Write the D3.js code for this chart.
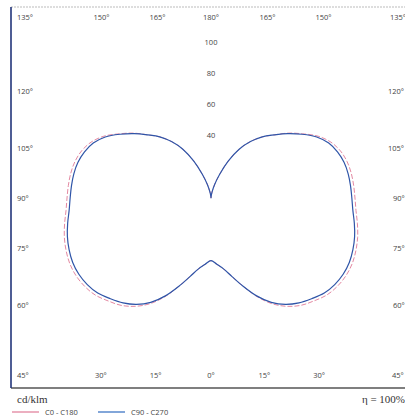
<!DOCTYPE html>
<html>
<head>
<meta charset="utf-8">
<script src="https://cdn.jsdelivr.net/npm/d3@7"></script>
<style>
  body { margin: 0; background: #fff; }
  svg { display: block; }
</style>
</head>
<body>
<div id="chart"></div>
<script>
// gamma angles (0 = straight down, 180 = straight up)
var gammas = [0, 5, 10, 15, 20, 25, 30, 35, 40, 45, 50, 55, 60, 65, 70, 75, 80, 85, 90,
              95, 100, 105, 110, 115, 120, 125, 130, 135, 140, 145, 150, 155, 160, 165, 170, 175, 180];
// cd/klm
var c0c180 = [40, 42.5, 46, 52, 60, 69.5, 78, 84.5, 89.5, 93, 96.5, 98.5, 99.5, 99.5, 98.5, 97, 95, 93, 92,
              91.5, 91, 90, 88, 84.5, 79, 71.5, 64.5, 57, 51, 44, 36, 26, 16, 9, 4, 1, 0];
var c90c270 = [40, 42.5, 46, 52, 60, 69, 77, 83, 87.5, 91, 94.5, 96.5, 97.5, 97.5, 96.5, 95, 93, 91, 90,
               89.5, 89, 88, 86, 83, 78, 71, 64, 57, 51, 44, 36, 26, 16, 9, 4, 1, 0];
var radialTicks = [40, 60, 80, 100];
var topAngles = [135, 150, 165, 180, 165, 150, 135];
var sideAngles = [120, 105, 90, 75, 60];
var bottomAngles = [45, 30, 15, 0, 15, 30, 45];

var width = 405, height = 418;
var cx = 211, cy = 198;
var frame = {left: 11, top: 7, right: 411, bottom: 388};

var svg = d3.select("#chart").append("svg")
    .attr("width", width)
    .attr("height", height);

var r = d3.scaleLinear().domain([0, 100]).range([0, 156.5]);
var toRad = d3.scaleLinear().domain([0, 180]).range([0, Math.PI]);

// frame
svg.append("line")
    .attr("x1", frame.left).attr("x2", width)
    .attr("y1", frame.top).attr("y2", frame.top)
    .attr("stroke", "#bbb").attr("stroke-width", 1)
    .attr("stroke-dasharray", "2,1");
svg.append("line")
    .attr("x1", frame.left).attr("x2", width)
    .attr("y1", frame.bottom).attr("y2", frame.bottom)
    .attr("stroke", "#555").attr("stroke-width", 1.3);
svg.append("line")
    .attr("x1", frame.left).attr("x2", frame.left)
    .attr("y1", frame.top).attr("y2", frame.bottom)
    .attr("stroke", "#23357a").attr("stroke-width", 1.6);

var lbl = svg.append("g")
    .attr("font-family", "'Open Sans', 'DejaVu Sans', sans-serif")
    .attr("font-size", 7.5)
    .attr("fill", "#444");

// top labels
var topY = 17;
topAngles.forEach(function(a, i) {
    var side = i < 3 ? -1 : (i > 3 ? 1 : 0);
    var dx = (cy - topY) * Math.tan(Math.PI - toRad(a));
    var x = cx + side * dx, anchor = "middle";
    if (side < 0) { x = i === 0 ? 17 : x + 3; anchor = i === 0 ? "start" : "end"; }
    if (side > 0) { x = i === 6 ? 390 : x; anchor = "start"; }
    lbl.append("text").attr("x", x).attr("y", topY + 3)
        .attr("text-anchor", anchor).text(a + "°");
});

// bottom labels
var botY = 375;
bottomAngles.forEach(function(a, i) {
    var side = i < 3 ? -1 : (i > 3 ? 1 : 0);
    var dx = (botY - cy) * Math.tan(toRad(a));
    var x = cx + side * dx, anchor = "middle";
    if (side < 0) { x = i === 0 ? 17 : x - 2; anchor = i === 0 ? "start" : "end"; }
    if (side > 0) { x = i === 6 ? 392 : x; anchor = "start"; }
    lbl.append("text").attr("x", x).attr("y", botY + 3)
        .attr("text-anchor", anchor).text(a + "°");
});

// side labels
sideAngles.forEach(function(a) {
    var dy = 186 * Math.tan(toRad(a - 90));
    lbl.append("text").attr("x", 17).attr("y", cy - dy + 3)
        .attr("text-anchor", "start").text(a + "°");
    lbl.append("text").attr("x", a === 120 || a === 105 ? 388 : 393).attr("y", cy - dy + 3)
        .attr("text-anchor", "start").text(a + "°");
});

// radial value labels
radialTicks.forEach(function(v) {
    lbl.append("text").attr("x", cx).attr("y", cy - r(v) + 3)
        .attr("text-anchor", "middle").text(v);
});

// curves
function points(vals) {
    var right = gammas.map(function(g, i) { return [Math.PI - toRad(g), r(vals[i])]; });
    var left = gammas.slice(1, -1).map(function(g, i) { return [Math.PI + toRad(g), r(vals[i + 1])]; }).reverse();
    return right.concat(left);
}
var line = d3.lineRadial()
    .angle(function(d) { return d[0]; })
    .radius(function(d) { return d[1]; })
    .curve(d3.curveCatmullRomClosed);

var plot = svg.append("g").attr("transform", "translate(" + cx + "," + cy + ")");
plot.append("path")
    .attr("d", line(points(c0c180)))
    .attr("fill", "none").attr("stroke", "#e07a96").attr("stroke-width", 0.9)
    .attr("stroke-dasharray", "5,2");
plot.append("path")
    .attr("d", line(points(c90c270)))
    .attr("fill", "none").attr("stroke", "#2f55a8").attr("stroke-width", 1.2);

// footer
var serif = "'Liberation Serif', 'DejaVu Serif', serif";
svg.append("text").attr("x", 17).attr("y", 403)
    .attr("font-family", serif).attr("font-size", 11).attr("fill", "#333")
    .text("cd/klm");
svg.append("text").attr("x", 405).attr("y", 403).attr("text-anchor", "end")
    .attr("font-family", serif).attr("font-size", 11).attr("fill", "#333")
    .text("η = 100%");

var legend = [{name: "C0 - C180", color: "#e07a96", x: 12}, {name: "C90 - C270", color: "#2f6bc0", x: 98}];
var lg = svg.append("g").selectAll("g").data(legend).enter().append("g")
    .attr("transform", function(d) { return "translate(" + d.x + ",412)"; });
lg.append("line").attr("x1", 0).attr("x2", 27).attr("y1", 0).attr("y2", 0)
    .attr("stroke", function(d) { return d.color; }).attr("stroke-width", 1.2);
lg.append("text").attr("x", 33).attr("y", 3)
    .attr("font-family", "'Open Sans', 'DejaVu Sans', sans-serif")
    .attr("font-size", 7.5).attr("fill", "#444")
    .text(function(d) { return d.name; });
</script>
</body>
</html>
